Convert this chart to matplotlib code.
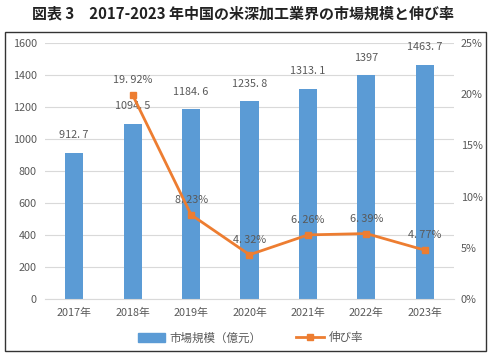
import matplotlib
matplotlib.use("Agg")
from matplotlib import pyplot as plt
from matplotlib.patches import Rectangle
from matplotlib.lines import Line2D
from matplotlib.patches import Patch

plt.rcParams['font.family'] = ['Noto Sans CJK JP', 'DejaVu Sans']

years = ['2017年', '2018年', '2019年', '2020年', '2021年', '2022年', '2023年']
market_size = [912.7, 1094.5, 1184.6, 1235.8, 1313.1, 1397, 1463.7]
size_labels = ['912. 7', '1094. 5', '1184. 6', '1235. 8', '1313. 1', '1397', '1463. 7']
growth_years = years[1:]
growth = [19.92, 8.23, 4.32, 6.26, 6.39, 4.77]
growth_labels = ['19. 92%', '8. 23%', '4. 32%', '6. 26%', '6. 39%', '4. 77%']

blue = '#5B9BD5'
orange = '#ED7D31'
gray = '#595959'

fig = plt.figure(figsize=(4.91, 3.57), dpi=100, facecolor='white')
fig.text(0.495, 0.962, '図表 3\u30002017-2023 年中国の米深加工業界の市場規模と伸び率',
         ha='center', va='center', fontsize=10.8, fontweight='bold', color='#222222')
fig.patches.append(Rectangle((5 / 491, 1 - 351 / 357), 481 / 491, 319 / 357,
                             transform=fig.transFigure, fill=False,
                             edgecolor='#333333', linewidth=1.0))

ax1 = fig.add_axes([45 / 491, 1 - 299 / 357, 409 / 491, 256 / 357])
x = list(range(len(years)))
ax1.bar(x, market_size, width=0.31, color=blue, zorder=2)
ax1.set_xlim(-0.5, len(years) - 0.5)
ax1.set_ylim(0, 1600)
ax1.set_yticks(range(0, 1601, 200))
ax1.set_xticks(x)
ax1.set_xticklabels(years)
ax1.grid(axis='y', color='#D9D9D9', linewidth=0.8, zorder=0)
ax1.set_axisbelow(True)
for s in ax1.spines.values():
    s.set_visible(False)
ax1.spines['bottom'].set_visible(True)
ax1.spines['bottom'].set_color('#D9D9D9')
ax1.tick_params(axis='both', length=0, labelsize=7.8, labelcolor=gray, pad=6)
for xi, v, lab in zip(x, market_size, size_labels):
    ax1.annotate(lab, (xi, v), xytext=(0, 9), textcoords='offset points',
                 ha='center', va='bottom', fontsize=7.8, color=gray)

ax2 = ax1.twinx()
gx = x[1:]
ax2.plot(gx, growth, color=orange, linewidth=2.0, marker='s', markersize=5, zorder=3)
ax2.set_ylim(0, 25)
ax2.set_yticks(range(0, 26, 5))
ax2.set_yticklabels([f'{v}%' for v in range(0, 26, 5)])
for s in ax2.spines.values():
    s.set_visible(False)
ax2.tick_params(axis='y', length=0, labelsize=7.8, labelcolor=gray, pad=5)
for xi, v, lab in zip(gx, growth, growth_labels):
    ax2.annotate(lab, (xi, v), xytext=(0, 7), textcoords='offset points',
                 ha='center', va='bottom', fontsize=7.8, color=gray)

handles = [Patch(color=blue), Line2D([], [], color=orange, linewidth=2.0, marker='s', markersize=4)]
fig.legend(handles, ['市場規模（億元）', '伸び率'], loc='center', bbox_to_anchor=(0.51, 1 - 338 / 357),
           ncol=2, frameon=False, fontsize=8.3, labelcolor=gray, handlelength=2.4,
           columnspacing=3.0, handletextpad=0.4)

fig.savefig('out.png', dpi=100, facecolor='white')
